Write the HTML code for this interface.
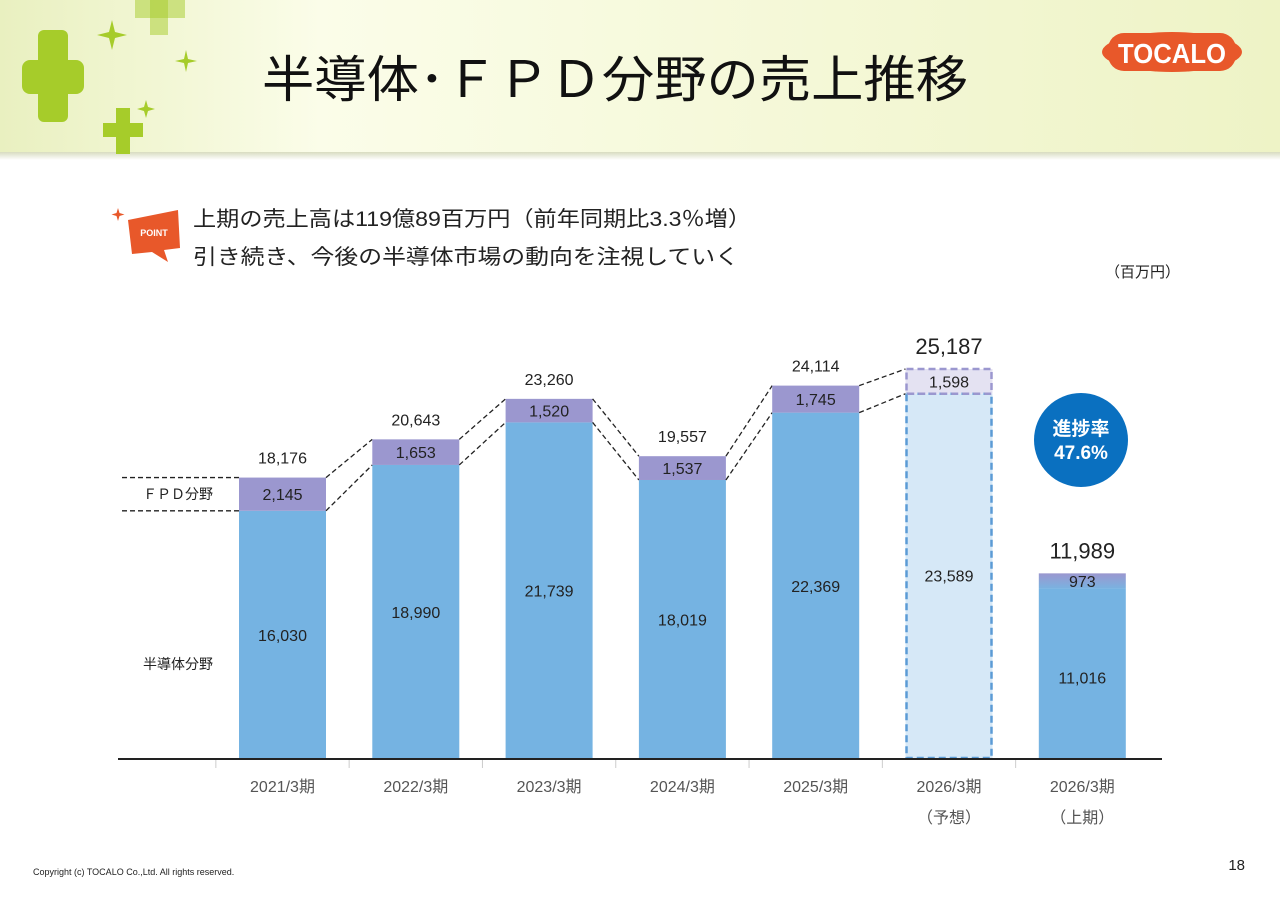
<!DOCTYPE html>
<html><head><meta charset="utf-8"><style>
body{margin:0;width:1280px;height:905px;background:#fff;overflow:hidden;font-family:"Liberation Sans","Noto Sans CJK JP",sans-serif;}
svg text{font-family:"Liberation Sans","Noto Sans CJK JP",sans-serif;}
</style></head><body>
<svg width="1280" height="905" viewBox="0 0 1280 905">
<defs>
<linearGradient id="hdr" x1="0" x2="1" y1="0" y2="0"><stop offset="0" stop-color="#e9f0c0"/><stop offset="0.25" stop-color="#fbfde9"/><stop offset="1" stop-color="#eef3c6"/></linearGradient>
<linearGradient id="hdrsh" x1="0" x2="0" y1="0" y2="1"><stop offset="0" stop-color="#d8dcc0"/><stop offset="1" stop-color="#fff"/></linearGradient>
<linearGradient id="h1fpd" x1="0" x2="0" y1="0" y2="1"><stop offset="0" stop-color="#9b97cf"/><stop offset="1" stop-color="#7ab2e0"/></linearGradient>
</defs>
<g>
<rect x="0" y="0" width="1280" height="152" fill="url(#hdr)"/>
<rect x="0" y="152" width="1280" height="8" fill="url(#hdrsh)"/>
<g fill="#a6cc2a">
<rect x="22" y="60" width="62" height="34" rx="8"/><rect x="38" y="30" width="30" height="92" rx="6"/>
<rect x="135" y="0" width="50" height="18" opacity="0.5"/><rect x="150" y="0" width="18" height="35" opacity="0.5"/>
<rect x="103" y="123" width="40" height="14"/><rect x="116" y="108" width="14" height="46"/>
<path d="M112 20 l3 12 l12 3 l-12 3 l-3 12 l-3 -12 l-12 -3 l12 -3z"/>
<path d="M186 50 l2 9 l9 2 l-9 2 l-2 9 l-2 -9 l-9 -2 l9 -2z"/>
<path d="M146 100 l2 7 l7 2 l-7 2 l-2 7 l-2 -7 l-7 -2 l7 -2z"/>
</g>
<text x="262" y="97" font-size="50" fill="#111" textLength="706" lengthAdjust="spacingAndGlyphs">半導体･ＦＰＤ分野の売上推移</text>
<g><ellipse cx="1172" cy="52" rx="70" ry="20" fill="#e8582a"/><rect x="1108" y="33" width="128" height="38" rx="16" fill="#e8582a"/><text x="1172" y="63" font-size="28" font-weight="bold" fill="#fff" text-anchor="middle" textLength="108" lengthAdjust="spacingAndGlyphs">TOCALO</text></g>
</g>
<g>
<path d="M128 220 L178 210 L180 248 L164 250 L168 262 L152 252 L132 254 Z" fill="#e8582a"/>
<text x="154" y="236" font-size="9" fill="#fff" text-anchor="middle" font-weight="bold">POINT</text>
<path d="M118 208 l1.5 5 l5 1.5 l-5 1.5 l-1.5 5 l-1.5 -5 l-5 -1.5 l5 -1.5z" fill="#e8582a"/>
<text x="193" y="226" font-size="21" fill="#222" textLength="558" lengthAdjust="spacingAndGlyphs">上期の売上高は119億89百万円（前年同期比3.3％増）</text>
<text x="193" y="264" font-size="21" fill="#222" textLength="546" lengthAdjust="spacingAndGlyphs">引き続き、今後の半導体市場の動向を注視していく</text>
</g>
<text x="1180" y="277" font-size="15" fill="#222" text-anchor="end">（百万円）</text>
<g id="chart"></g>
<text x="33" y="875" font-size="9" fill="#222">Copyright (c) TOCALO Co.,Ltd. All rights reserved.</text>
<text x="1245" y="870" font-size="15" fill="#222" text-anchor="end">18</text>
</svg>
<script>
const categories=["2021/3期","2022/3期","2023/3期","2024/3期","2025/3期","2026/3期","2026/3期"];
const subLabels=["","","","","","（予想）","（上期）"];
const semiValues=[16030,18990,21739,18019,22369,23589,11016];
const fpdValues=[2145,1653,1520,1537,1745,1598,973];
const totalValues=[18176,20643,23260,19557,24114,25187,11989];
const NS="http://www.w3.org/2000/svg";
const g=document.getElementById('chart');
const base=759, k=390/25187, x0=282.5, step=133.3, bw=87;
const X=i=>x0+i*step, Y=v=>base-v*k;
function el(t,a,txt){const e=document.createElementNS(NS,t);for(const n in a)e.setAttribute(n,a[n]);if(txt!==undefined)e.textContent=txt;g.appendChild(e);return e;}
let e;
e=el('line',{x1:122,x2:X(0)-bw/2,y1:Y(totalValues[0]),y2:Y(totalValues[0]),stroke:'#222','stroke-dasharray':'5,3','stroke-width':1.3});

e=el('line',{x1:122,x2:X(0)-bw/2,y1:Y(semiValues[0]),y2:Y(semiValues[0]),stroke:'#222','stroke-dasharray':'5,3','stroke-width':1.3});

e=el('text',{x:178,y:(Y(totalValues[0])+Y(semiValues[0]))/2+5,'font-size':14,'text-anchor':'middle',fill:'#222'},'ＦＰＤ分野');

e=el('text',{x:178,y:669,'font-size':14,'text-anchor':'middle',fill:'#222'},'半導体分野');

for(let i=0;i<categories.length;i++){
  const cx=X(i),l=cx-bw/2,fc=i===5,h1=i===6;
  const ys=Y(semiValues[i]),yt=Y(semiValues[i]+fpdValues[i]);
  e=el('rect',{x:l,y:ys,width:bw,height:base-ys,fill:fc?'#d6e8f7':'#75b3e2'});
  
  e=el('rect',{x:l,y:yt,width:bw,height:ys-yt,fill:fc?'#e4e2f2':(h1?'url(#h1fpd)':'#9b97cf')});
  
  if(fc){
    e=el('rect',{x:l+1,y:ys,width:bw-2,height:base-ys-1,fill:'none',stroke:'#5b9bd5','stroke-width':2.5,'stroke-dasharray':'7,4'});
    
    e=el('rect',{x:l+1,y:yt,width:bw-2,height:ys-yt,fill:'none',stroke:'#9b97cf','stroke-width':2.5,'stroke-dasharray':'7,4'});
    
  }
  e=el('text',{x:cx,y:(base+ys)/2+6,'font-size':16,'text-anchor':'middle',fill:'#222'},semiValues[i].toLocaleString('en-US'));
  if(fc)e.setAttribute('y',ys+188);
  if(h1)e.setAttribute('y',ys+95);
  
  e=el('text',{x:cx,y:(ys+yt)/2+6,'font-size':16,'text-anchor':'middle',fill:'#222'},fpdValues[i].toLocaleString('en-US'));
  
  const big=i>=5;
  e=el('text',{x:cx,y:yt-(big?15:14),'font-size':big?22:16,'text-anchor':'middle',fill:'#222'},totalValues[i].toLocaleString('en-US'));
  
  e=el('text',{x:cx,y:792,'font-size':16,'text-anchor':'middle',fill:'#555'},categories[i]);
  
  if(subLabels[i]){e=el('text',{x:cx,y:823,'font-size':16,'text-anchor':'middle',fill:'#555'},subLabels[i]);
  }
  e=el('line',{x1:cx-step/2,x2:cx-step/2,y1:760,y2:768,stroke:'#ccc'});
  
  if(i<5){
    const n=i+1;
    e=el('line',{x1:cx+bw/2,y1:yt,x2:X(n)-bw/2,y2:Y(semiValues[n]+fpdValues[n]),stroke:'#222','stroke-dasharray':'5,3','stroke-width':1.3});
    
    e=el('line',{x1:cx+bw/2,y1:ys,x2:X(n)-bw/2,y2:Y(semiValues[n]),stroke:'#222','stroke-dasharray':'5,3','stroke-width':1.3});
    
  }
}
e=el('line',{x1:118,x2:1162,y1:759,y2:759,stroke:'#222','stroke-width':2});

e=el('circle',{cx:1081,cy:440,r:47,fill:'#0a70c0'});

e=el('text',{x:1081,y:435,'font-size':19,'font-weight':'bold','text-anchor':'middle',fill:'#fff'},'進捗率');

e=el('text',{x:1081,y:459,'font-size':19,'font-weight':'bold','text-anchor':'middle',fill:'#fff'},'47.6%');

</script>
</body></html>
